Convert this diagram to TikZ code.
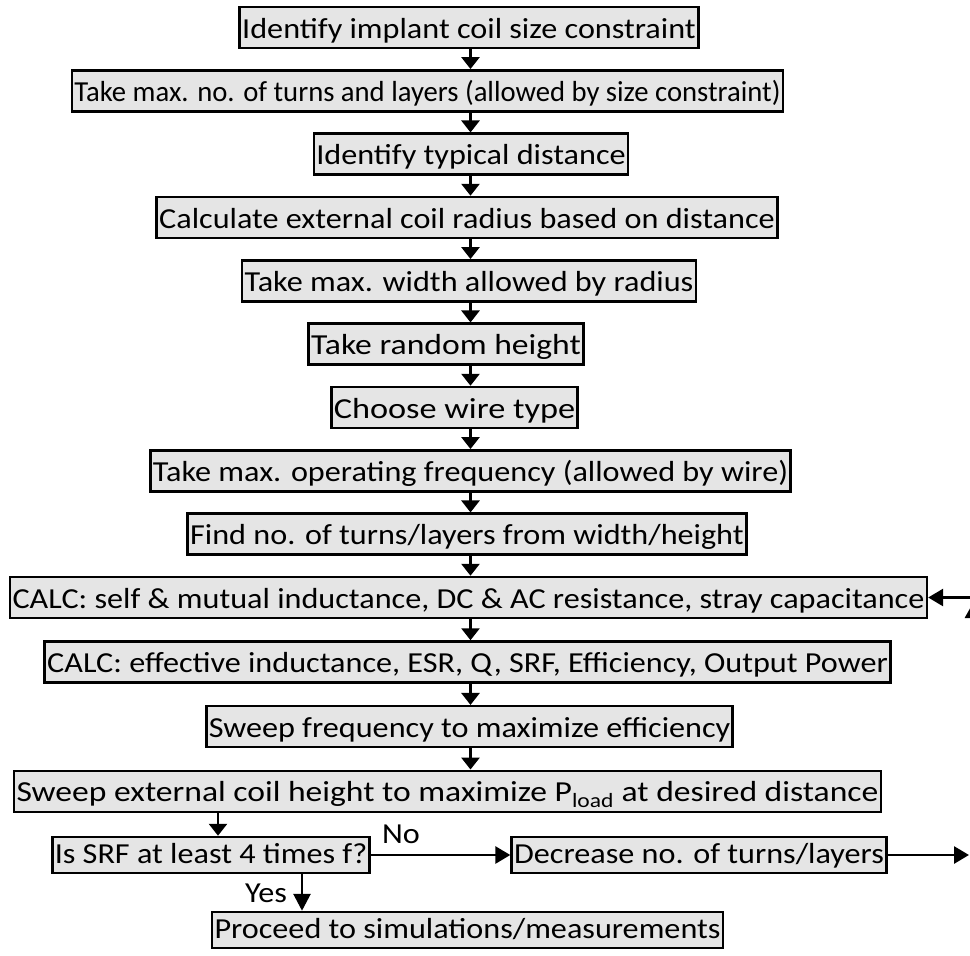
\documentclass[tikz,border=0pt]{standalone}
\usepackage{fontspec}
\usepackage{graphicx}
\setmainfont{Carlito}[FakeStretch=1.11]
\usetikzlibrary{arrows.meta}
\newcommand{\hs}[2]{\scalebox{#1}[1]{#2}}
\begin{document}
\begin{tikzpicture}[x=1pt,y=-1pt,
  box/.style={draw=black,line width=2.5pt,fill=black!10,inner xsep=2.5pt,inner ysep=7pt,
    text height=24pt,text depth=3pt,font=\fontsize{29}{31}\selectfont},
  lowbox/.style={box,inner ysep=4pt,text height=22pt,text depth=6pt},
  arr/.style={line width=2.8pt,-{Triangle[length=12pt,width=18pt]}},
  lbl/.style={font=\fontsize{29}{31}\selectfont,inner sep=0pt}]
\useasboundingbox (0,0) rectangle (970,956);
\clip (0,0) rectangle (970,956);
\node[box] (b1) at (469,27.5) {Identify implant coil size constraint};
\node[box] (b2) at (427.5,90.8) {\hs{0.89}{Take max. no. of turns and layers (allowed by size constraint)}};
\node[box] (b3) at (471,154.2) {Identify typical distance};
\node[box] (b4) at (467,217.5) {Calculate external coil radius based on distance};
\node[box] (b5) at (469,280.8) {Take max. width allowed by radius};
\node[box] (b6) at (446,344.2) {\hs{1.045}{Take random height}};
\node[box] (b7) at (454.5,407.5) {\hs{1.065}{Choose wire type}};
\node[box] (b8) at (470.5,470.8) {Take max. operating frequency (allowed by wire)};
\node[box] (b9) at (467,534.2) {Find no. of turns/layers from width/height};
\node[box] (b10) at (468.5,597.5) {CALC: self \& mutual inductance, DC \& AC resistance, stray capacitance};
\node[box] (b11) at (467.5,662) {CALC: effective inductance, ESR, Q, SRF, Efficiency, Output Power};
\node[box] (b12) at (469.5,726.7) {Sweep frequency to maximize efficiency};
\node[box] (b13) at (447.5,791.3) {\hs{1.044}{Sweep external coil height to maximize P\textsubscript{load} at desired distance}};
\node[lowbox] (b14) at (211,855) {Is SRF at least 4 times f?};
\node[lowbox] (dec) at (699,855) {Decrease no. of turns/layers};
\node[lowbox] (b15) at (467.5,930) {Proceed to simulations/measurements};
\coordinate (ax) at (470.5,0);
\foreach \a/\b in {b1/b2,b2/b3,b3/b4,b4/b5,b5/b6,b6/b7,b7/b8,b8/b9,b9/b10,b10/b11,b11/b12,b12/b13}
  \draw[arr] (\a.south -| ax) -- (\b.north -| ax);
\coordinate (sx) at (218,0);
\draw[arr] (b13.south -| sx) -- (b14.north -| sx);
\coordinate (yx) at (302,0);
\draw[arr,-{Triangle[length=17pt,width=17pt]}] (b14.south -| yx) -- (b15.north -| yx);
\node[lbl] (yes) at (266,893) {Yes};
\draw[arr,-{Triangle[length=15pt,width=17pt]}] (b14.east) -- (dec.west);
\node[lbl] (no) at (401,834) {No};
\coordinate (r1) at (969,855);
\draw[arr,-{Triangle[length=15pt,width=17pt]}] (dec.east) -- (r1);
\coordinate (u0) at (973,855);
\coordinate (u1) at (973,603);
\draw[arr,-{Triangle[length=15pt,width=16pt]}] (u0) -- (u1);
\coordinate (r2) at (990,597.5);
\draw[arr,-{Triangle[length=15pt,width=17pt]}] (r2) -- (b10.east);
\end{tikzpicture}
\end{document}
